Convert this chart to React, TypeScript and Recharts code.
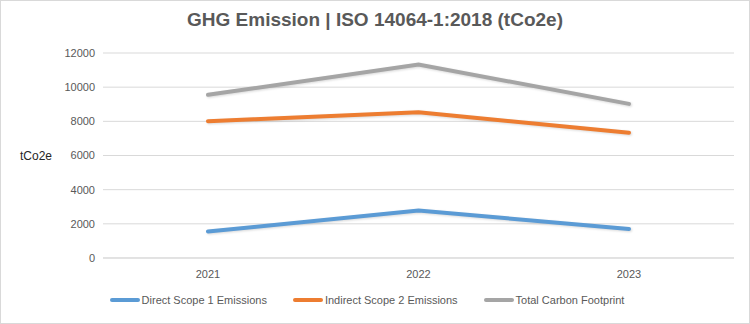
import { LineChart, Line, XAxis, YAxis, CartesianGrid, Legend, Label } from 'recharts';

const years = ['2021', '2022', '2023'];
const directScope1 = [1550, 2780, 1700];
const indirectScope2 = [8010, 8530, 7330];
const totalFootprint = [9550, 11330, 9020];
const yTicks = [0, 2000, 4000, 6000, 8000, 10000, 12000];

const series = [
  { key: 'direct', name: 'Direct Scope 1 Emissions', color: '#5B9BD5' },
  { key: 'indirect', name: 'Indirect Scope 2 Emissions', color: '#ED7D31' },
  { key: 'total', name: 'Total Carbon Footprint', color: '#A5A5A5' },
];

const data = years.map((year, i) => ({
  year,
  direct: directScope1[i],
  indirect: indirectScope2[i],
  total: totalFootprint[i],
}));

const font = '"Liberation Sans", Arial, sans-serif';

function LegendContent() {
  return (
    <div style={{ display: 'flex', justifyContent: 'center', gap: 26, fontFamily: font, fontSize: 11, color: '#595959' }}>
      {series.map((s) => (
        <div key={s.key} style={{ display: 'flex', alignItems: 'center' }}>
          <span style={{ display: 'inline-block', width: 30, height: 4, borderRadius: 2, background: s.color, marginRight: 2 }} />
          <span>{s.name}</span>
        </div>
      ))}
    </div>
  );
}

export default function App() {
  return (
    <div style={{ position: 'absolute', left: 0, top: 0, width: 750, height: 324, background: '#fff' }}>
      <div
        style={{
          position: 'absolute',
          inset: 0,
          border: '1px solid #d9d9d9',
          boxSizing: 'border-box',
          pointerEvents: 'none',
        }}
      />
      <div
        style={{
          position: 'absolute',
          top: 9,
          left: 0,
          width: 750,
          textAlign: 'center',
          fontFamily: font,
          fontWeight: 'bold',
          fontSize: 19,
          color: '#595959',
        }}
      >
        GHG Emission | ISO 14064-1:2018 (tCo2e)
      </div>
      <LineChart width={750} height={324} data={data} margin={{ top: 53, right: 16, bottom: 8, left: 0 }}>
        <CartesianGrid vertical={false} stroke="#d9d9d9" />
        <XAxis
          dataKey="year"
          axisLine={{ stroke: '#d9d9d9' }}
          tickLine={false}
          height={30}
          padding={{ left: 105, right: 105 }}
          tick={{ fill: '#595959', fontSize: 11, fontFamily: font }}
          tickMargin={6}
        />
        <YAxis
          domain={[0, 12000]}
          ticks={yTicks}
          width={103}
          axisLine={false}
          tickLine={false}
          tick={{ fill: '#595959', fontSize: 11, fontFamily: font }}
        >
          <Label
            value="tCo2e"
            position="insideLeft"
            offset={20}
            style={{ fill: '#262626', fontSize: 12, fontFamily: font }}
          />
        </YAxis>
        <Legend verticalAlign="bottom" height={28} wrapperStyle={{ bottom: 2 }} content={<LegendContent />} />
        {series.map((s) => (
          <Line
            key={s.key}
            type="linear"
            dataKey={s.key}
            name={s.name}
            stroke={s.color}
            strokeWidth={4}
            strokeLinecap="round"
            dot={false}
            activeDot={false}
            isAnimationActive={false}
            style={{ filter: 'drop-shadow(1px 1px 1px rgba(0,0,0,0.15))' }}
          />
        ))}
      </LineChart>
    </div>
  );
}
